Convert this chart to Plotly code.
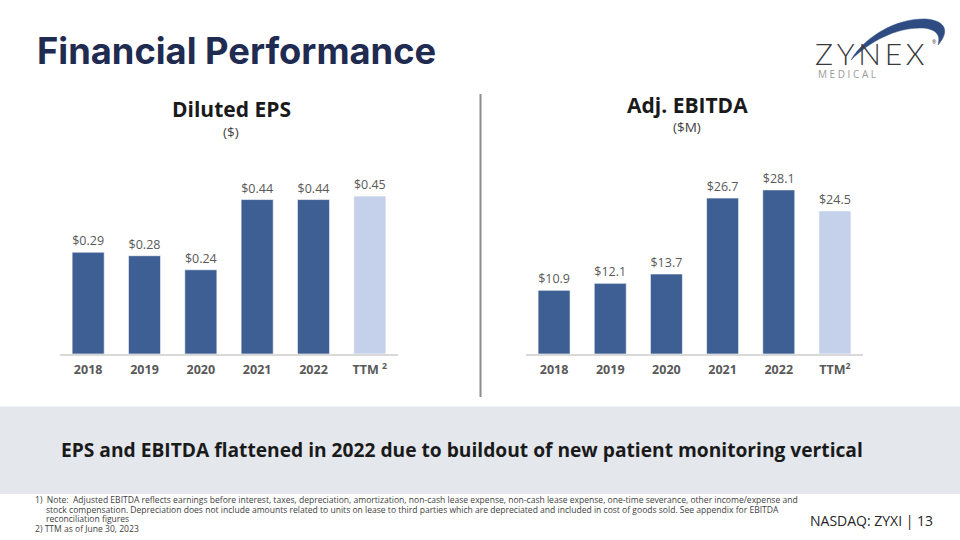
import plotly.graph_objects as go

categories = ["2018", "2019", "2020", "2021", "2022", "TTM"]
tick_labels = ["2018", "2019", "2020", "2021", "2022", "TTM <sup>2</sup>"]
tick_labels_r = ["2018", "2019", "2020", "2021", "2022", "TTM<sup>2</sup>"]
eps_values = [0.29, 0.28, 0.24, 0.44, 0.44, 0.45]
ebitda_values = [10.9, 12.1, 13.7, 26.7, 28.1, 24.5]
bar_colors = ["#3E5F93", "#3E5F93", "#3E5F93", "#3E5F93", "#3E5F93", "#C5D0EA"]

W, H = 960, 540
def px(x):
    return x / W
def py(y):
    return 1 - y / H

FONT = "Open Sans"
LABEL_GRAY = "#595959"

fig = go.Figure()
fig.add_trace(go.Bar(
    x=categories, y=eps_values, xaxis="x", yaxis="y",
    marker=dict(color=bar_colors, line=dict(color="rgba(255,255,255,0.6)", width=1)),
    width=0.57, texttemplate="$%{y:.2f}", textposition="outside",
    textfont=dict(family=FONT, size=12.5, color=LABEL_GRAY), cliponaxis=False,
    hoverinfo="skip"))
fig.add_trace(go.Bar(
    x=categories, y=ebitda_values, xaxis="x2", yaxis="y2",
    marker=dict(color=bar_colors, line=dict(color="rgba(255,255,255,0.6)", width=1)),
    width=0.57, texttemplate="$%{y:.1f}", textposition="outside",
    textfont=dict(family=FONT, size=12.5, color=LABEL_GRAY), cliponaxis=False,
    hoverinfo="skip"))

ydom = [py(354), py(140)]
xaxis_common = dict(showline=True, linecolor="#D9D9D9", linewidth=2, showgrid=False,
                    zeroline=False, ticks="", range=[-0.5, 5.5], tickmode="array",
                    tickvals=categories,
                    tickfont=dict(family=FONT, size=12.5, color=LABEL_GRAY, weight="bold"),
                    ticklabelstandoff=3, fixedrange=True)
fig.update_layout(
    width=W, height=H, margin=dict(l=0, r=0, t=0, b=0),
    paper_bgcolor="white", plot_bgcolor="rgba(0,0,0,0)", showlegend=False,
    xaxis=dict(domain=[px(60), px(398)], ticktext=tick_labels, anchor="y", **xaxis_common),
    xaxis2=dict(domain=[px(526), px(863)], ticktext=tick_labels_r, anchor="y2", **xaxis_common),
    yaxis=dict(domain=ydom, range=[0, 214 / 351], visible=False, fixedrange=True),
    yaxis2=dict(domain=ydom, range=[0, 214 / 5.84], visible=False, fixedrange=True),
    bargap=0.43,
)

shapes = [
    dict(type="rect", xref="paper", yref="paper", x0=0, x1=1, y0=py(494), y1=py(406.5),
         fillcolor="#E4E7EC", line=dict(width=0), layer="below"),
    dict(type="line", xref="paper", yref="paper", x0=px(480.5), x1=px(480.5), y0=py(397), y1=py(94),
         line=dict(color="#8C8C8C", width=2)),
    # logo swoosh
    dict(type="path", xref="paper", yref="paper",
         path="M {} {} C {} {} {} {} {} {} C {} {} {} {} {} {} C {} {} {} {} {} {} C {} {} {} {} {} {} Z".format(
             px(851), py(60),
             px(866), py(35), px(898), py(18), px(926), py(19),
             px(949), py(21), px(948), py(34), px(938), py(45),
             px(941), py(36), px(937), py(28), px(920), py(28),
             px(896), py(28), px(870), py(41), px(851), py(60)),
         fillcolor="#2F4C82", line=dict(color="#2F4C82", width=0.5)),
]

NOTE = dict(family=FONT, size=8.55, color="#404040")
annotations = [
    dict(text="<b>Financial Performance</b>", x=px(35), y=py(51), xanchor="left", yanchor="middle",
         font=dict(family="Inter", size=36.3, color="#1F2B50")),
    dict(text="<b>Diluted EPS</b>", x=px(231), y=py(109), xanchor="center", yanchor="middle",
         font=dict(family=FONT, size=21, color="#1A1A1A")),
    dict(text="($)", x=px(231), y=py(132), xanchor="center", yanchor="middle",
         font=dict(family=FONT, size=13.5, color="#404040")),
    dict(text="<b>Adj. EBITDA</b>", x=px(687), y=py(105), xanchor="center", yanchor="middle",
         font=dict(family=FONT, size=21, color="#1A1A1A")),
    dict(text="($M)", x=px(687), y=py(127), xanchor="center", yanchor="middle",
         font=dict(family=FONT, size=13.5, color="#404040")),
    dict(text="<b>EPS and EBITDA flattened in 2022 due to buildout of new patient monitoring vertical</b>",
         x=px(462), y=py(449), xanchor="center", yanchor="middle",
         font=dict(family=FONT, size=19.2, color="#1A1A1A")),
    dict(text="1)  Note:  Adjusted EBITDA reflects earnings before interest, taxes, depreciation, amortization, non-cash lease expense, non-cash lease expense, one-time severance, other income/expense and",
         x=px(33), y=py(500), xanchor="left", yanchor="middle", font=NOTE),
    dict(text="stock compensation. Depreciation does not include amounts related to units on lease to third parties which are depreciated and included in cost of goods sold. See appendix for EBITDA",
         x=px(44), y=py(509.5), xanchor="left", yanchor="middle", font=NOTE),
    dict(text="reconciliation figures",
         x=px(44), y=py(519), xanchor="left", yanchor="middle", font=NOTE),
    dict(text="2) TTM as of June 30, 2023",
         x=px(33), y=py(529), xanchor="left", yanchor="middle", font=NOTE),
    dict(text="NASDAQ: ZYXI | 13", x=px(808), y=py(520), xanchor="left", yanchor="middle",
         font=dict(family=FONT, size=14, color="#262626")),
    dict(text="Z\u2009Y\u2009N\u2009E\u2009X", x=px(813), y=py(53), xanchor="left", yanchor="middle",
         font=dict(family="Lato", size=30, color="#3A3A3A", weight=300)),
    dict(text="®", x=px(930), y=py(42), xanchor="left", yanchor="middle",
         font=dict(family=FONT, size=5, color="#3A3A3A")),
    dict(text="M E D I C A L", x=px(816), y=py(74), xanchor="left", yanchor="middle",
         font=dict(family=FONT, size=10, color="#9A9A9A")),
]
for a in annotations:
    a.update(xref="paper", yref="paper", showarrow=False)

fig.update_layout(shapes=shapes, annotations=annotations)
fig.write_html("out.html", config={"displayModeBar": False},
               post_script="document.body.style.margin='0px';document.body.style.overflow='hidden';")
